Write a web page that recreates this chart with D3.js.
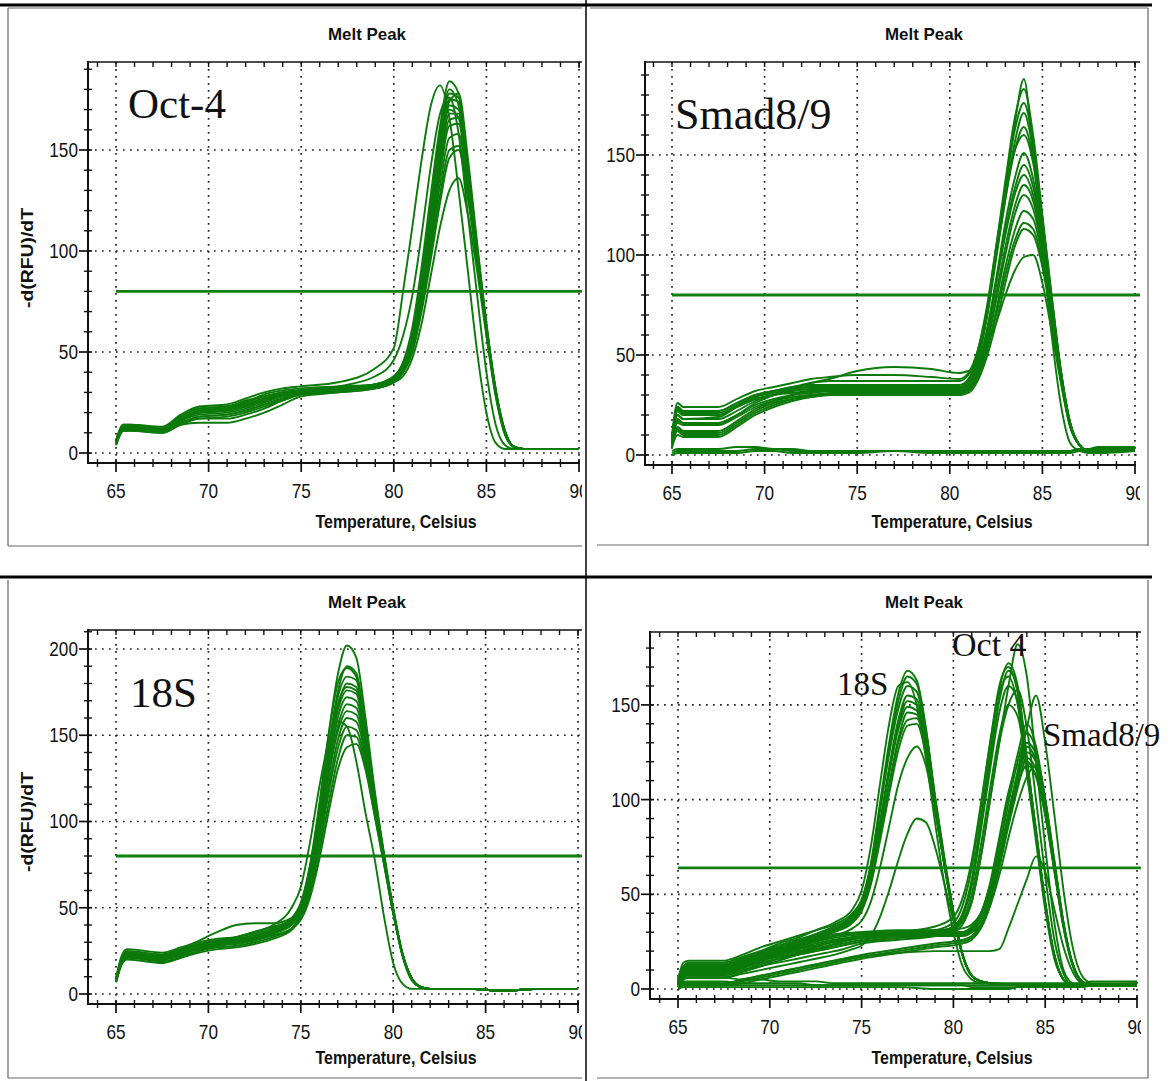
<!DOCTYPE html>
<html>
<head>
<meta charset="utf-8">
<script src="https://cdn.jsdelivr.net/npm/d3@7"></script>
<style>
  body { margin: 0; background: #fff; }
  svg { display: block; }
</style>
</head>
<body>
<svg id="fig" width="1170" height="1081"></svg>
<script>
// ---------------- data ----------------
// Melt-peak traces: -d(RFU)/dT sampled at the temperatures of each grid.

const xTickValues = [65, 70, 75, 80, 85, 90];

// Oct-4 assay
const tempOct4 = [65, 65.4, 65.8, 67.5, 68.5, 69.5, 71, 72, 73, 74, 75, 77, 79, 80, 80.5, 81, 81.5, 82, 82.5, 83, 83.5, 84, 84.5, 85, 85.5, 86, 86.5, 87, 90];
const oct4Curves = [
  [5,13,13,12,17,21,22,24,27,29,31,32,34,38,45,62,92,128,162,184,178,140,100,62,30,10,3,2,2],
  [6,14,14,13,19,23,24,27,30,32,33,35,42,52,80,112,145,172,182,166,130,90,50,20,5,2,2,2,2],
  [5,12,12,11,16,20,21,23,26,29,31,33,38,46,58,78,108,142,168,176,158,118,78,40,14,4,2,2,2],
  [4,12,12,11,16,19,20,22,25,28,30,31,33,37,43,58,86,120,155,178,176,142,102,64,32,11,3,2,2],
  [5,13,13,12,18,22,23,25,28,30,31,32,34,37,42,56,84,118,152,175,174,140,101,63,31,10,3,2,2],
  [6,14,14,12,17,20,21,23,26,28,30,31,33,36,41,54,80,113,148,172,170,138,100,62,31,11,3,2,2],
  [5,12,12,11,15,18,19,21,24,27,29,31,33,36,40,52,78,110,144,168,168,137,99,62,30,10,3,2,2],
  [4,11,11,10,14,17,18,20,23,26,29,30,32,35,40,52,76,108,140,165,166,135,98,62,31,11,3,2,2],
  [5,12,12,11,16,21,22,25,29,31,32,33,34,37,41,53,76,106,138,162,163,132,97,61,30,10,3,2,2],
  [5,13,13,12,17,20,21,24,27,30,31,32,34,37,41,52,74,103,133,156,158,130,96,60,30,10,3,2,2],
  [6,13,13,12,17,20,21,23,26,29,31,32,33,36,40,50,72,100,128,150,152,128,95,60,30,10,3,2,2],
  [5,12,12,11,15,17,17,19,22,26,29,31,33,36,40,50,70,96,124,146,150,126,94,60,29,10,3,2,2],
  [4,11,11,10,14,15,15,17,20,24,28,30,32,35,38,47,64,88,112,130,136,118,90,58,28,9,3,2,2],
  [5,12,13,12,17,21,22,24,27,29,30,31,32,35,40,54,82,116,150,174,178,146,104,64,31,10,3,2,2],
  [6,13,13,12,18,22,23,26,28,30,31,32,33,36,42,57,86,122,158,180,172,136,98,61,30,10,3,2,2],
  [4,12,12,11,15,18,19,21,24,27,30,32,34,38,44,60,88,122,154,170,166,134,98,62,31,10,3,2,2]
];

// Smad8/9 assay
const tempSmad = [65, 65.3, 65.6, 67.5, 68.5, 69.5, 70.5, 71.5, 72.5, 73.5, 75, 77, 79, 80.5, 81, 81.5, 82, 82.5, 83, 83.5, 84, 84.5, 85, 85.5, 86, 86.5, 87, 87.5, 88, 90];
const smadCurves = [
  [6,22,20,20,24,28,30,32,33,34,35,35,34,34,37,48,70,100,132,165,188,150,105,60,25,6,2,1,1,2],
  [8,24,22,22,26,30,32,34,35,35,35,35,35,35,38,50,72,104,137,168,183,160,120,80,42,16,5,2,2,3],
  [5,18,16,16,20,25,28,30,32,33,33,33,33,33,36,47,68,98,128,156,171,152,116,78,42,16,5,2,2,3],
  [10,26,24,24,28,32,34,36,38,39,40,40,39,38,41,52,72,100,128,152,164,148,114,77,41,16,5,2,2,3],
  [7,20,18,18,22,27,30,32,33,33,33,33,33,33,35,44,62,88,116,138,151,138,110,75,40,15,5,2,2,3],
  [4,14,12,12,17,23,27,30,31,32,32,32,32,32,34,42,60,85,112,133,145,134,108,74,40,15,5,2,2,3],
  [9,24,22,22,26,30,32,33,34,34,34,34,34,34,37,45,62,86,110,130,140,130,106,73,40,15,5,2,2,3],
  [5,12,10,10,15,21,25,28,30,31,31,31,31,31,33,41,57,80,104,124,135,127,104,72,39,15,5,2,2,3],
  [6,16,15,15,19,24,27,29,30,30,31,31,31,31,33,40,55,77,100,120,130,123,102,71,39,15,5,2,2,3],
  [4,10,9,9,14,20,24,27,29,30,30,30,30,30,32,38,52,72,94,112,122,118,99,70,38,15,5,2,2,3],
  [8,22,20,20,24,28,30,31,32,32,32,32,32,32,34,40,52,70,90,107,116,113,96,68,38,15,5,2,2,3],
  [5,13,11,11,16,22,26,28,29,30,30,30,30,30,31,37,49,66,86,104,113,110,94,67,37,14,5,2,2,3],
  [6,17,16,16,20,26,30,33,36,38,42,44,43,41,42,44,55,66,80,92,99,100,86,62,36,14,5,2,2,3],
  [7,20,18,19,24,29,32,34,36,37,37,37,37,37,40,52,74,104,132,152,160,146,114,77,41,16,5,2,2,3],
  [8,23,21,21,25,29,31,33,34,34,34,34,34,34,37,49,71,102,134,162,176,156,118,79,42,16,5,2,2,3]
];
const smadNoTemplate = [
  [1,2,2,2,2,3,3,2,2,2,2,2,2,2,2,2,2,2,2,2,2,2,2,2,2,2,3,3,3,4],
  [0,1,1,1,1,2,2,1,1,1,1,2,1,1,1,1,1,1,1,1,1,1,1,1,1,1,2,2,2,3],
  [2,3,3,3,4,4,3,3,2,2,2,2,2,2,2,2,2,2,2,2,2,2,2,2,2,2,3,3,4,4]
];

// 18S assay
const temp18S = [65, 65.3, 65.6, 67.5, 68.5, 69.5, 70.5, 71.5, 72.5, 73.5, 74.5, 75, 75.5, 76, 76.5, 77, 77.5, 78, 78.5, 79, 79.5, 80, 80.5, 81, 81.5, 82, 84, 86, 88, 90];
const s18Curves = [
  [8,20,24,22,25,28,30,31,33,36,42,50,72,108,150,185,202,195,160,118,80,48,22,8,4,3,3,2,3,3],
  [7,18,23,21,24,28,31,33,36,40,50,62,88,120,146,158,155,135,105,78,45,18,6,3,3,3,3,2,3,3],
  [8,19,23,21,24,27,29,30,32,35,41,48,68,102,142,175,190,186,155,116,82,50,24,9,4,3,3,2,3,3],
  [9,21,25,23,26,29,31,32,34,37,43,52,72,104,142,172,184,182,152,114,80,49,23,9,4,3,3,2,3,3],
  [7,18,22,20,22,25,27,28,30,33,38,46,64,96,134,166,180,178,150,113,80,49,23,9,4,3,3,2,3,3],
  [8,20,24,22,25,28,30,31,33,36,42,50,68,99,136,164,176,174,148,112,79,48,23,9,4,3,3,2,3,3],
  [8,19,22,20,23,27,29,31,33,36,41,48,65,95,130,160,172,170,146,111,79,48,23,9,4,3,3,2,3,3],
  [7,17,21,19,21,24,26,27,29,32,37,44,60,90,126,155,168,166,144,110,78,48,23,9,4,3,3,2,3,3],
  [8,20,24,22,25,28,30,32,34,37,42,48,64,92,126,152,164,162,141,108,78,48,23,9,4,3,3,2,3,3],
  [7,18,22,20,23,26,28,30,32,35,40,46,62,88,120,147,160,158,138,107,77,47,23,9,4,3,3,2,3,3],
  [8,19,23,21,24,27,30,33,36,39,43,48,62,86,116,142,155,153,135,105,76,47,23,9,4,3,3,2,3,3],
  [7,17,20,18,21,25,28,29,31,34,38,44,58,82,110,136,150,149,132,104,76,47,23,9,4,3,3,2,3,3],
  [8,18,22,20,23,26,28,30,32,34,38,43,56,78,105,130,143,145,130,103,75,47,23,9,4,3,3,2,3,3],
  [8,20,24,22,26,31,36,40,41,41,44,52,74,106,142,168,178,176,150,112,79,48,23,9,4,3,3,2,3,3],
  [9,22,26,24,27,30,32,33,35,38,44,53,75,110,150,180,189,184,152,114,80,49,23,9,4,3,3,2,3,3]
];

// All three assays run together (18S, Oct-4 and Smad8/9 grids as above)
const mix18S = [
  [4,12,14,14,17,20,23,26,29,33,39,47,66,98,130,156,168,163,138,102,70,41,18,7,4,3,2,2,2,2],
  [2,8,10,10,13,16,20,23,27,31,37,45,63,94,126,152,165,161,137,101,69,40,18,7,4,3,2,2,2,2],
  [5,14,15,15,18,22,25,28,31,34,40,47,65,95,124,148,160,157,135,100,68,40,18,7,4,3,2,2,2,2],
  [3,10,12,12,15,18,21,24,28,32,37,44,60,88,117,142,155,153,132,99,68,40,18,7,4,3,2,2,2,2],
  [1,6,8,8,11,15,19,23,27,31,36,42,58,85,114,139,152,150,130,98,67,40,18,7,4,3,2,2,2,2],
  [4,12,13,13,16,19,22,25,29,33,38,45,61,87,114,137,149,147,128,97,67,40,18,7,4,3,2,2,2,2],
  [2,9,11,11,14,17,20,23,27,31,36,42,57,82,108,132,146,145,127,96,66,39,18,7,4,3,2,2,2,2],
  [3,11,13,13,16,19,22,25,28,32,37,43,58,82,107,130,142,143,126,96,66,39,18,7,4,3,2,2,2,2],
  [1,7,9,9,12,15,18,22,26,30,35,41,55,78,103,126,139,140,124,95,66,39,18,7,4,3,2,2,2,2],
  [2,8,10,10,13,16,19,22,25,28,32,36,46,64,86,108,122,128,118,94,66,39,18,7,4,3,2,2,2,2],
  [1,5,6,6,8,10,12,14,16,18,21,23,28,38,52,68,82,90,88,75,56,36,18,7,4,3,2,2,2,2],
  [3,11,13,13,16,20,24,27,31,35,42,52,75,108,140,160,162,150,122,88,56,30,12,5,3,3,2,2,2,2]
];
const mixOct4 = [
  [4,10,10,10,13,16,19,21,24,26,28,30,31,32,36,46,70,100,130,160,182,165,120,75,35,10,3,2,2],
  [3,9,9,9,12,15,18,20,22,24,26,28,30,33,40,58,90,125,158,172,160,122,82,45,18,5,2,2,2],
  [5,12,12,12,15,18,20,22,24,26,28,29,31,35,44,64,96,130,160,170,156,118,80,44,17,5,2,2,2],
  [2,8,8,8,11,14,17,19,21,23,25,27,29,32,38,55,86,120,152,168,158,122,84,46,18,5,2,2,2],
  [4,11,11,11,14,17,20,22,24,26,28,30,33,38,48,68,98,130,156,165,150,114,78,42,16,5,2,2,2],
  [3,9,9,9,12,15,18,20,22,25,27,29,30,33,39,55,84,116,146,160,152,120,84,46,18,5,2,2,2],
  [1,6,6,6,9,12,15,17,19,21,24,26,28,31,36,50,76,106,134,150,144,115,82,46,18,5,2,2,2],
  [3,8,8,8,11,14,17,19,21,23,25,27,28,30,34,46,70,100,130,150,158,138,100,60,26,8,2,2,2]
];
const mixSmad = [
  [5,12,12,12,15,19,22,25,27,29,30,31,31,32,34,40,52,70,92,115,138,155,130,92,52,22,7,3,2,2],
  [4,10,10,10,13,17,20,23,26,28,30,30,30,30,33,40,55,78,102,124,140,128,100,66,34,13,4,2,2,2],
  [3,8,8,8,11,15,19,22,25,27,29,30,30,30,32,39,52,74,98,120,135,126,100,66,34,13,4,2,2,2],
  [5,11,11,11,14,18,21,24,26,28,29,29,29,29,31,37,50,70,93,114,130,124,100,67,35,13,4,2,2,2],
  [2,6,6,6,9,12,15,18,21,24,27,28,28,28,30,36,48,67,89,110,125,120,98,66,34,13,4,2,2,2],
  [4,9,9,9,12,15,18,21,24,26,28,29,29,29,32,40,56,80,104,118,120,112,92,63,33,13,4,2,2,2],
  [3,7,7,7,10,13,16,19,22,25,28,29,29,29,30,34,44,60,80,98,112,118,100,68,35,13,4,2,2,2],
  [1,3,3,3,5,7,9,11,13,15,18,21,24,26,28,34,46,66,90,112,128,120,96,64,33,13,4,2,2,2],
  [1,2,2,2,3,5,7,9,11,13,16,19,22,24,26,32,44,64,86,106,122,116,94,63,33,13,4,2,2,2],
  [1,3,3,3,5,7,9,11,13,15,17,19,20,20,20,20,20,21,32,45,58,70,62,42,22,9,3,2,2,2],
  [1,2,2,2,4,6,8,10,12,14,17,20,23,25,27,33,45,66,88,108,118,113,92,62,32,12,4,2,2,2]
];
const mixNoTemplate = [
  [2,4,4,4,3,3,3,3,2,2,2,2,2,2,2,2,2,2,2,2,2,2,2,2,2,2,2,3,3,3],
  [0,1,1,1,1,1,1,1,1,1,1,1,0,0,0,0,0,0,0,1,1,1,1,1,1,1,1,2,2,2],
  [1,2,2,2,2,2,2,2,2,2,2,2,2,2,1,1,1,1,1,1,1,1,1,1,1,1,1,2,2,3],
  [3,6,6,6,5,5,4,4,4,3,3,3,3,3,3,3,3,3,3,3,3,3,3,3,3,3,3,4,4,4]
];

const thresholds = [80, 80, 80, 64];
const yTickSets = [[0, 50, 100, 150], [0, 50, 100, 150], [0, 50, 100, 150, 200], [0, 50, 100, 150]];

// ---------------- layout ----------------
const GREEN = "#0b7a0b";
const panels = [
  { id: "a", x65: 116, x90: 579, axisX: 88, top: 62, bottom: 463, y0: 453, y50: 352, right: 582,
    title: [367, 40], xlab: [396, 528], ylab: [33, 258],
    groups: [[tempOct4, oct4Curves]],
    names: [{ t: "Oct-4", x: 128, y: 118, s: 43 }] },
  { id: "b", x65: 672, x90: 1135, axisX: 645, top: 62, bottom: 465, y0: 455, y50: 355, right: 1140,
    title: [924, 40], xlab: [952, 528], ylab: null,
    groups: [[tempSmad, smadNoTemplate], [tempSmad, smadCurves]],
    names: [{ t: "Smad8/9", x: 675, y: 129, s: 44 }] },
  { id: "c", x65: 116, x90: 578, axisX: 88, top: 630, bottom: 1004, y0: 994, y50: 907.75, right: 582,
    title: [367, 608], xlab: [396, 1064], ylab: [33, 822],
    groups: [[temp18S, s18Curves]],
    names: [{ t: "18S", x: 130, y: 707, s: 43 }] },
  { id: "d", x65: 678, x90: 1137, axisX: 650, top: 632, bottom: 999, y0: 989, y50: 894.3, right: 1141,
    title: [924, 608], xlab: [952, 1064], ylab: null,
    groups: [[tempSmad, mixNoTemplate], [temp18S, mix18S], [tempSmad, mixSmad], [tempOct4, mixOct4]],
    names: [{ t: "18S", x: 837, y: 695, s: 33 }, { t: "Oct 4", x: 952, y: 656, s: 34 }, { t: "Smad8/9", x: 1043, y: 746, s: 33 }] }
];

const svg = d3.select("#fig");
const defs = svg.append("defs");

// table rules and picture frames
const frame = svg.append("g").attr("fill", "none");
frame.append("line").attr("x1", 0).attr("x2", 1152).attr("y1", 5).attr("y2", 5).attr("stroke", "#000").attr("stroke-width", 3);
frame.append("line").attr("x1", 0).attr("x2", 1152).attr("y1", 577).attr("y2", 577).attr("stroke", "#000").attr("stroke-width", 3);
frame.append("line").attr("x1", 586).attr("x2", 586).attr("y1", 0).attr("y2", 1081).attr("stroke", "#000").attr("stroke-width", 1.5);
const thin = (x1, y1, x2, y2) => frame.append("line").attr("x1", x1).attr("y1", y1).attr("x2", x2).attr("y2", y2).attr("stroke", "#666").attr("stroke-width", 1.2);
thin(8, 8, 8, 546); thin(8, 8, 582, 8); thin(8, 546, 582, 546);
thin(590, 8, 1148, 8); thin(1148, 8, 1148, 546); thin(597, 545, 1148, 545);
thin(8, 580, 8, 1078); thin(8, 1078, 582, 1078);
thin(1148, 580, 1148, 1078); thin(597, 1078, 1148, 1078);

panels.forEach((p, pi) => {
  const g = svg.append("g");
  const x = d3.scaleLinear().domain([65, 90]).range([p.x65, p.x90]);
  const y = d3.scaleLinear().domain([0, 50]).range([p.y0, p.y50]);
  const xLeft = x.invert(p.axisX);
  const yTop = y.invert(p.top);
  const xEnd = x(90);

  defs.append("clipPath").attr("id", "plot-" + p.id).append("rect")
    .attr("x", p.axisX).attr("y", p.top).attr("width", p.right - p.axisX).attr("height", p.bottom - p.top);
  defs.append("clipPath").attr("id", "pic-" + p.id).append("rect")
    .attr("x", p.axisX - 80).attr("y", p.top - 60).attr("width", p.right - p.axisX + 80).attr("height", p.bottom - p.top + 120);

  // dotted grid
  const grid = g.append("g").attr("stroke", "#222").attr("stroke-width", 1.7)
    .attr("stroke-dasharray", "1.7,5.3").attr("clip-path", "url(#plot-" + p.id + ")");
  xTickValues.forEach(t => grid.append("line").attr("x1", x(t)).attr("x2", x(t)).attr("y1", p.top).attr("y2", p.bottom));
  yTickSets[pi].forEach(v => grid.append("line").attr("x1", p.axisX).attr("x2", xEnd + 2).attr("y1", y(v)).attr("y2", y(v)));

  // traces
  const plot = g.append("g").attr("clip-path", "url(#plot-" + p.id + ")");
  p.groups.forEach(([temps, curves]) => {
    const line = d3.line().x((d, i) => x(temps[i])).y(d => y(d)).curve(d3.curveMonotoneX);
    plot.append("g").selectAll("path").data(curves).join("path")
      .attr("d", line).attr("fill", "none").attr("stroke", GREEN).attr("stroke-width", 1.9)
      .attr("stroke-linejoin", "round");
  });
  // threshold
  plot.append("line").attr("x1", x(65)).attr("x2", p.right).attr("y1", y(thresholds[pi])).attr("y2", y(thresholds[pi]))
    .attr("stroke", "#0f7f0f").attr("stroke-width", 2.8);

  // frame and ticks
  const ax = g.append("g").attr("stroke", "#111").attr("clip-path", "url(#pic-" + p.id + ")");
  ax.append("line").attr("x1", p.axisX).attr("x2", p.right).attr("y1", p.top).attr("y2", p.top).attr("stroke-width", 1.6);
  ax.append("line").attr("x1", p.axisX).attr("x2", xEnd + 1).attr("y1", p.bottom).attr("y2", p.bottom).attr("stroke-width", 2);
  ax.append("line").attr("x1", p.axisX).attr("x2", p.axisX).attr("y1", p.top - 1).attr("y2", p.bottom + 1).attr("stroke-width", 2);
  ax.append("line").attr("x1", xEnd).attr("x2", xEnd).attr("y1", p.top).attr("y2", p.top + 6).attr("stroke-width", 1.3);
  d3.range(Math.ceil(xLeft), 91).forEach(t => {
    const major = t % 5 === 0;
    ax.append("line").attr("x1", x(t)).attr("x2", x(t)).attr("y1", p.bottom - 4).attr("y2", p.bottom + (major ? 9 : 4)).attr("stroke-width", major ? 1.7 : 1.4);
    ax.append("line").attr("x1", x(t)).attr("x2", x(t)).attr("y1", p.top).attr("y2", p.top + 5).attr("stroke-width", 1.4);
  });
  d3.range(0, yTop, 10).forEach(v => {
    const major = v % 50 === 0;
    ax.append("line").attr("x1", p.axisX - (major ? 9 : 4)).attr("x2", p.axisX + 4).attr("y1", y(v)).attr("y2", y(v)).attr("stroke-width", major ? 1.7 : 1.4);
  });

  // tick labels
  const lab = g.append("g").attr("font-family", "'Liberation Sans', Arial, sans-serif")
    .attr("fill", "#111").attr("clip-path", "url(#pic-" + p.id + ")");
  xTickValues.forEach(t => lab.append("text").attr("x", x(t)).attr("y", p.bottom + 35).attr("font-size", 20)
    .attr("text-anchor", "middle").attr("transform", `translate(${x(t)},0) scale(0.86,1) translate(${-x(t)},0)`).text(t));
  yTickSets[pi].forEach(v => lab.append("text").attr("x", p.axisX - 10).attr("y", y(v) + 7).attr("font-size", 20)
    .attr("text-anchor", "end").attr("transform", `translate(${p.axisX - 10},0) scale(0.86,1) translate(${-(p.axisX - 10)},0)`).text(v));

  // titles
  const bold = g.append("g").attr("font-family", "'Liberation Sans', Arial, sans-serif").attr("font-weight", "bold").attr("fill", "#111");
  bold.append("text").attr("x", p.title[0]).attr("y", p.title[1]).attr("text-anchor", "middle")
    .attr("font-size", 17).attr("textLength", 78).attr("lengthAdjust", "spacingAndGlyphs").text("Melt Peak");
  bold.append("text").attr("x", p.xlab[0]).attr("y", p.xlab[1]).attr("text-anchor", "middle")
    .attr("font-size", 19).attr("textLength", 161).attr("lengthAdjust", "spacingAndGlyphs").text("Temperature, Celsius");
  if (p.ylab) {
    bold.append("text").attr("transform", `translate(${p.ylab[0]},${p.ylab[1]}) rotate(-90)`)
      .attr("text-anchor", "middle").attr("font-size", 16).attr("textLength", 100).attr("lengthAdjust", "spacingAndGlyphs")
      .text("-d(RFU)/dT");
  }

  // assay names
  p.names.forEach(n => g.append("text").attr("x", n.x).attr("y", n.y)
    .attr("font-family", "'Liberation Serif', 'Times New Roman', serif").attr("font-size", n.s).attr("fill", "#111").text(n.t));
});
</script>
</body>
</html>
